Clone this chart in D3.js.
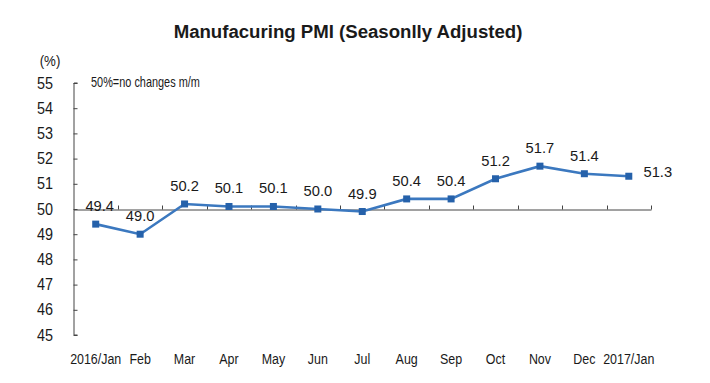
<!DOCTYPE html>
<html><head><meta charset="utf-8">
<script src="https://cdn.jsdelivr.net/npm/d3@7/dist/d3.min.js"></script>
<style>body{margin:0;background:#fff}svg{display:block}text{font-family:"Liberation Sans",Arial,sans-serif;fill:#1a1a1a}</style>
</head><body><svg id="c" width="710" height="383"></svg>
<script>
const categories = ["2016/Jan","Feb","Mar","Apr","May","Jun","Jul","Aug","Sep","Oct","Nov","Dec","2017/Jan"];
const pmiValues = [49.4,49.0,50.2,50.1,50.1,50.0,49.9,50.4,50.4,51.2,51.7,51.4,51.3];
const valueLabels = ["49.4","49.0","50.2","50.1","50.1","50.0","49.9","50.4","50.4","51.2","51.7","51.4","51.3"];
const yTicks = [45,46,47,48,49,50,51,52,53,54,55];
const titleText = "Manufacuring PMI (Seasonlly Adjusted)";
const unitText = "(%)";
const noteText = "50%=no changes m/m";

const svg = d3.select("#c");
const axisColor = "#444";
const x = d3.scaleBand().domain(categories).range([73.5, 651]);
const y = d3.scaleLinear().domain([45,55]).range([335, 83]);

function txt(g, s, px, py, size, anchor, sx, weight){
  return g.append("text").attr("transform",`translate(${px},${py}) scale(${sx},1)`)
    .attr("text-anchor",anchor).attr("font-size",size).attr("font-weight",weight||"normal").text(s);
}

// title
txt(svg, titleText, 348, 38, 19, "middle", 0.98, "bold");
txt(svg, unitText, 50, 66, 14, "middle", 0.95);
txt(svg, noteText, 91, 87, 14, "start", 0.78);

// y axis
const ya = svg.append("g").attr("transform","translate(73.5,0)")
  .call(d3.axisRight(y).tickValues(yTicks).tickSize(4).tickFormat(""));
ya.select(".domain").attr("stroke",axisColor).attr("d",`M4,${y(55)}H0.5V${y(45)}H4`);
ya.selectAll(".tick line").attr("stroke",axisColor);
yTicks.forEach(t => txt(svg, String(t), 53, y(t)+5.5, 16, "end", 0.9));

// x axis at 50
const xa = svg.append("g").attr("transform",`translate(0,${Math.round(y(50))+0.5})`)
  .call(d3.axisTop(x).tickValues([]).tickSizeOuter(0));
xa.select(".domain").attr("stroke",axisColor);
const bounds = categories.map((c,i)=>x(c)).slice(1).concat([x.range()[1]]);
xa.selectAll("line.b").data(bounds).enter().append("line").attr("class","b")
  .attr("x1",d=>Math.round(d)+0.5).attr("x2",d=>Math.round(d)+0.5).attr("y1",0).attr("y2",-4).attr("stroke",axisColor);

categories.forEach(c => txt(svg, c, x(c)+x.bandwidth()/2, 364, 15, "middle", 0.83));

// line
const cx = c => x(c)+x.bandwidth()/2;
const line = d3.line().x((d,i)=>cx(categories[i])).y(d=>y(d));
svg.append("path").datum(pmiValues).attr("d",line).attr("fill","none").attr("stroke","#3b78bf").attr("stroke-width",2.6);
svg.selectAll("rect.m").data(pmiValues).enter().append("rect").attr("class","m")
  .attr("x",(d,i)=>cx(categories[i])-3.5).attr("y",d=>y(d)-3.5).attr("width",7).attr("height",7).attr("fill","#2561aa");

// labels
pmiValues.forEach((v,i)=>{
  const last = i === pmiValues.length-1;
  const lx = last ? cx(categories[i])+29 : cx(categories[i])+(i===0?4:0);
  const ly = last ? y(v)+1 : y(v)-13;
  txt(svg, valueLabels[i], lx, ly, 15.5, "middle", 0.95);
});
</script></body></html>
